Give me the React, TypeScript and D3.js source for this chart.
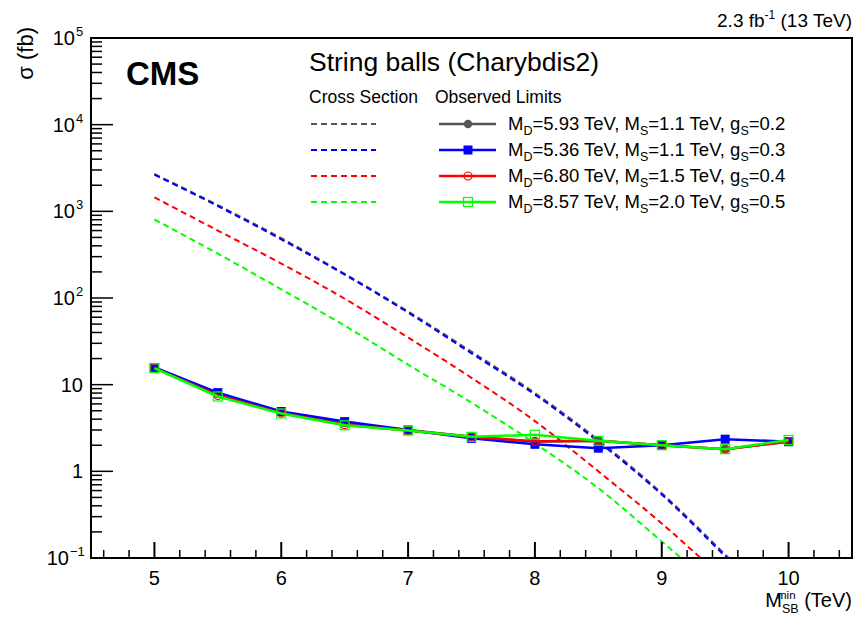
import React from 'react';
import * as d3 from 'd3';

// M_SB^min points (TeV)
const massPoints = [5, 5.5, 6, 6.5, 7, 7.5, 8, 8.5, 9, 9.5, 10];

// observed limits (fb)
const obsGray = [15.8, 7.8, 4.8, 3.6, 3.0, 2.5, 2.2, 2.25, 2.0, 1.8, 2.2];
const obsBlue = [15.8, 8.1, 4.9, 3.75, 3.0, 2.4, 2.05, 1.85, 2.0, 2.35, 2.2];
const obsRed = [15.5, 7.5, 4.7, 3.45, 2.95, 2.5, 2.22, 2.25, 2.0, 1.8, 2.2];
const obsGreen = [15.5, 7.3, 4.65, 3.4, 2.95, 2.5, 2.64, 2.25, 2.0, 1.8, 2.3];

// signal cross sections (fb)
const xsecGray = [2700, 1180, 490, 190, 70, 24, 8.0, 2.3, 0.56, 0.11, 0.021];
const xsecBlue = [2650, 1150, 475, 186, 68, 23, 7.7, 2.2, 0.54, 0.105, 0.02];
const xsecRed = [1450, 600, 250, 98, 35, 12, 3.8, 1.0, 0.25, 0.055, 0.011];
const xsecGreen = [805, 325, 126, 48, 17, 6.2, 2.1, 0.64, 0.155, 0.036, 0.007];

const legendLabels = [
  ['5.93', '1.1', '0.2'],
  ['5.36', '1.1', '0.3'],
  ['6.80', '1.5', '0.4'],
  ['8.57', '2.0', '0.5'],
];
const yExponents = [-1, 0, 1, 2, 3, 4, 5];
const xTicks = [5, 6, 7, 8, 9, 10];

const series = [
  { color: '#555555', obs: obsGray, xsec: xsecGray, marker: 'circleFilled' },
  { color: '#0000ff', obs: obsBlue, xsec: xsecBlue, marker: 'squareFilled' },
  { color: '#ff0000', obs: obsRed, xsec: xsecRed, marker: 'circleOpen' },
  { color: '#00ff00', obs: obsGreen, xsec: xsecGreen, marker: 'squareOpen' },
];

const font = '"Liberation Sans", Arial, Helvetica, sans-serif';

function Marker({ type, x, y, color }: { type: string; x: number; y: number; color: string }) {
  if (type === 'circleFilled') return <circle cx={x} cy={y} r={4.2} fill={color} />;
  if (type === 'circleOpen') return <circle cx={x} cy={y} r={4} fill="none" stroke={color} strokeWidth={1.2} />;
  if (type === 'squareFilled') return <rect x={x - 4.5} y={y - 4.5} width={9} height={9} fill={color} />;
  return <rect x={x - 4.5} y={y - 4.5} width={9} height={9} fill="none" stroke={color} strokeWidth={1.2} />;
}

export default function App() {
  const width = 855;
  const height = 617;
  const left = 91, right = 852, top = 38, bottom = 558;

  const x = d3.scaleLinear().domain([4.5, 10.5]).range([left, right]);
  const y = d3.scaleLog().domain([0.1, 1e5]).range([bottom, top]);

  const line = d3.line<[number, number]>()
    .x(d => x(d[0]))
    .y(d => y(d[1]));
  const curve = d3.line<[number, number]>()
    .x(d => x(d[0]))
    .y(d => y(d[1]))
    .curve(d3.curveMonotoneX);

  const xMinor = d3.range(4.6, 10.5, 0.2).filter(v => Math.abs(v - Math.round(v)) > 0.01);
  const yMinor: number[] = [];
  for (let e = -1; e < 5; e++) for (let m = 2; m <= 9; m++) yMinor.push(m * Math.pow(10, e));

  return (
    <svg width={width} height={height} style={{ position: 'absolute', left: 0, top: 0 }}>
      <rect width={width} height={height} fill="#fff" />
      <defs>
        <clipPath id="plot">
          <rect x={left} y={top} width={right - left} height={bottom - top} />
        </clipPath>
      </defs>

      {/* cross sections */}
      <g clipPath="url(#plot)">
        {series.map((s, i) => (
          <path key={'x' + i}
            d={curve(massPoints.map((m, j) => [m, s.xsec[j]] as [number, number])) || ''}
            fill="none" stroke={s.color} strokeWidth={2} strokeDasharray="6,4" />
        ))}
      </g>

      {/* observed limits */}
      <g clipPath="url(#plot)">
        {series.map((s, i) => (
          <g key={'o' + i}>
            <path d={line(massPoints.map((m, j) => [m, s.obs[j]] as [number, number])) || ''}
              fill="none" stroke={s.color} strokeWidth={2.5} />
            {massPoints.map((m, j) => (
              <Marker key={j} type={s.marker} x={x(m)} y={y(s.obs[j])} color={s.color} />
            ))}
          </g>
        ))}
      </g>

      {/* frame */}
      <rect x={left} y={top} width={right - left} height={bottom - top} fill="none" stroke="#000" strokeWidth={2} />

      {/* x axis */}
      {xTicks.map(t => (
        <g key={'xt' + t}>
          <line x1={x(t)} x2={x(t)} y1={bottom} y2={bottom - 16} stroke="#000" strokeWidth={2} />
          <text x={x(t)} y={bottom + 27} fontSize={20} fontFamily={font} textAnchor="middle">{t}</text>
        </g>
      ))}
      {xMinor.map(t => (
        <line key={'xm' + t} x1={x(t)} x2={x(t)} y1={bottom} y2={bottom - 8} stroke="#000" strokeWidth={1.5} />
      ))}
      {/* x title: M_SB^min (TeV), sub and superscript stacked */}
      <text x={right} y={607} fontSize={20} fontFamily={font} textAnchor="end">
        <tspan>M</tspan>
        <tspan fontSize={12.5} dy={6}>SB</tspan>
        <tspan dy={-6}> (TeV)</tspan>
      </text>
      <text x={right - 75} y={599} fontSize={11.5} fontFamily={font} textAnchor="start">min</text>

      {/* y axis */}
      {yExponents.map(e => (
        <g key={'yt' + e}>
          <line x1={left} x2={left + 22} y1={y(Math.pow(10, e))} y2={y(Math.pow(10, e))} stroke="#000" strokeWidth={1.5} />
          <text x={e >= 2 || e < 0 ? 83 - (e < 0 ? 14 : 8) : 83} y={y(Math.pow(10, e)) + 7} fontSize={20} fontFamily={font} textAnchor="end">
            {e === 0 ? '1' : '10'}
          </text>
          {(e >= 2 || e < 0) && (
            <text x={e < 0 ? 70 : 76} y={y(Math.pow(10, e)) - 2} fontSize={13} fontFamily={font} textAnchor="start">
              {e < 0 ? '\u22121' : e}
            </text>
          )}
        </g>
      ))}
      {yMinor.map((v, i) => (
        <line key={'ym' + i} x1={left} x2={left + 11} y1={y(v)} y2={y(v)} stroke="#000" strokeWidth={1.5} />
      ))}
      <text transform="translate(33,27) rotate(-90)" fontSize={22} fontFamily={font} textAnchor="end">σ (fb)</text>

      {/* header */}
      <text x={right} y={27} fontSize={19} fontFamily={font} textAnchor="end">
        <tspan>2.3 fb</tspan>
        <tspan fontSize={12} dy={-8}>-1</tspan>
        <tspan dy={8}> (13 TeV)</tspan>
      </text>
      <text x={126} y={85} fontSize={33} fontWeight="bold" fontFamily={font}>CMS</text>
      <text x={309} y={71} fontSize={26.5} fontFamily={font}>String balls (Charybdis2)</text>
      <text x={309} y={103} fontSize={17.5} fontFamily={font}>Cross Section</text>
      <text x={435} y={103} fontSize={17.5} fontFamily={font}>Observed Limits</text>

      {/* legend */}
      {series.map((s, i) => {
        const ly = 124 + i * 26;
        const [md, ms, gs] = legendLabels[i];
        return (
          <g key={'lg' + i}>
            <line x1={311} x2={376} y1={ly} y2={ly} stroke={s.color} strokeWidth={2} strokeDasharray="6,4" />
            <line x1={439} x2={496} y1={ly} y2={ly} stroke={s.color} strokeWidth={2.5} />
            <Marker type={s.marker} x={468} y={ly} color={s.color} />
            <text x={508} y={ly + 6} fontSize={18.5} fontFamily={font}>
              <tspan>M</tspan>
              <tspan fontSize={12.5} dy={5}>D</tspan>
              <tspan dy={-5}>{'=' + md + ' TeV, M'}</tspan>
              <tspan fontSize={12.5} dy={5}>S</tspan>
              <tspan dy={-5}>{'=' + ms + ' TeV, g'}</tspan>
              <tspan fontSize={12.5} dy={5}>S</tspan>
              <tspan dy={-5}>{'=' + gs}</tspan>
            </text>
          </g>
        );
      })}
    </svg>
  );
}
